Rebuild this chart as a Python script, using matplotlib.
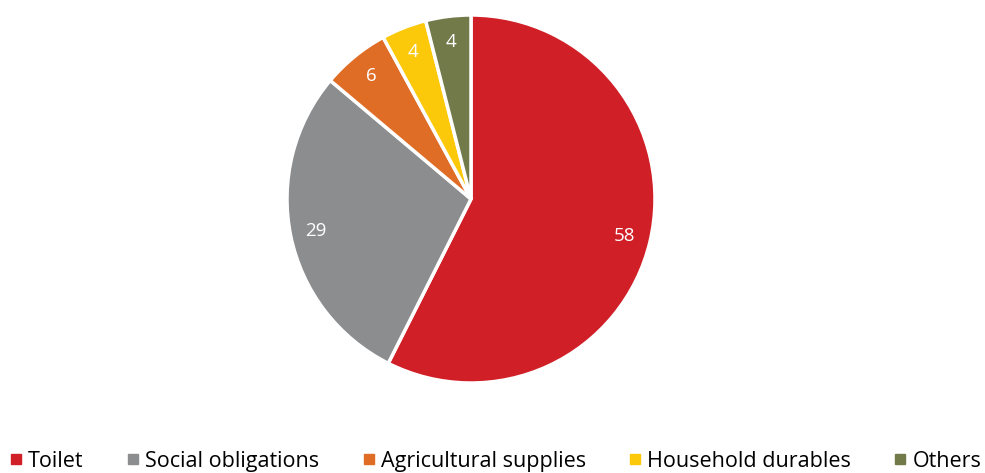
import matplotlib.pyplot as plt
from matplotlib.lines import Line2D

categories = ['Toilet', 'Social obligations', 'Agricultural supplies',
              'Household durables', 'Others']
shares = [58, 29, 6, 4, 4]
colors = ['#D01F26', '#8C8D8F', '#E06D26', '#FCC80A', '#727A4A']

plt.rcParams['font.family'] = ['Open Sans', 'DejaVu Sans']

fig = plt.figure(figsize=(9.85, 4.73), dpi=100)
cx, cy, r = 471, 199, 184
ax = fig.add_axes([(cx - r) / 985, (473 - cy - r) / 473, 2 * r / 985, 2 * r / 473])

wedges, texts = ax.pie(shares, colors=colors, startangle=90, counterclock=False,
                       labels=[str(v) for v in shares], labeldistance=0.86,
                       wedgeprops=dict(edgecolor='white', linewidth=2.5),
                       textprops=dict(color='white', fontsize=13.5))
for t in texts:
    t.set_horizontalalignment('center')
    t.set_verticalalignment('center')
ax.set_xlim(-1, 1)
ax.set_ylim(-1, 1)
ax.set_aspect('equal')

handles = [Line2D([], [], marker='s', linestyle='none', markersize=7,
                  markerfacecolor=c, markeredgecolor=c) for c in colors]
fig.legend(handles, categories, loc='center', bbox_to_anchor=(0.502, 1 - 461 / 473),
           ncol=5, frameon=False, fontsize=15.5, handletextpad=0.15,
           columnspacing=1.9, handlelength=0.8)

fig.savefig('out.png', dpi=100)
